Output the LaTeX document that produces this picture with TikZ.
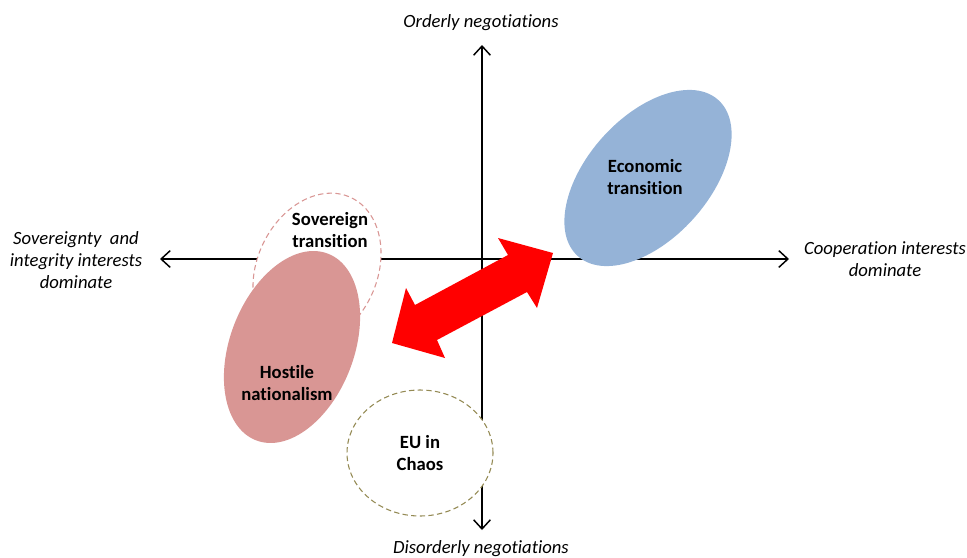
\documentclass[tikz,border=0pt]{standalone}
\usepackage{fontspec}
\setmainfont{Carlito}[Ligatures=NoCommon]
\usepackage{xcolor}
\usepackage{tikz}
\usetikzlibrary{arrows.meta}
\definecolor{econblue}{HTML}{95B3D7}
\definecolor{hostred}{HTML}{D99694}
\definecolor{sovline}{HTML}{D99694}
\definecolor{chaosline}{HTML}{948A54}
\tikzstyle{axis} = [line width=1.1pt, -{Straight Barb[length=2.4mm,width=4.4mm,line width=1.1pt]}]
\tikzstyle{axlabel} = [font=\fontsize{14}{16.5}\selectfont\itshape, align=center]
\tikzstyle{scenario} = [font=\fontsize{14}{16}\selectfont\bfseries, align=center]
\tikzstyle{dashedbound} = [dashed, line width=0.8pt, fill=white, dash pattern=on 4pt off 2.5pt]

\begin{document}
\begin{tikzpicture}[x=0.75pt, y=0.75pt]
\useasboundingbox (0,0) rectangle (967,-557);

% axes
\coordinate (origin) at (482,-259);
\coordinate (top) at (482,-45);
\coordinate (bottom) at (482,-530);
\coordinate (left) at (160,-259);
\coordinate (right) at (789,-259);
\draw [axis] (origin) -- (top);
\draw [axis] (origin) -- (bottom);
\draw [axis] (origin) -- (left);
\draw [axis] (origin) -- (right);

\node (orderly) [axlabel] at (481,-23) {Orderly negotiations};
\node (disorderly) [axlabel] at (481,-549) {Disorderly negotiations};
\node (sovint) [axlabel] at (76,-260) {Sovereignty\ \ and\\integrity interests\\dominate};
\node (coopint) [axlabel] at (885,-259) {Cooperation interests\\dominate};

% scenarios
\draw [dashedbound, draw=chaosline] (420,-453) ellipse [x radius=73, y radius=63];
\draw [dashedbound, draw=sovline, rotate around={-25:(317,-270)}] (317,-270) ellipse [x radius=60, y radius=80];
\fill [hostred, rotate around={-21:(292,-347)}] (292,-347) ellipse [x radius=62, y radius=100];
\fill [econblue, rotate around={48:(648,-178)}] (648,-178) ellipse [x radius=105, y radius=61];

\node (econ) [scenario] at (645,-177) {Economic\\transition};
\node (sov) [scenario] at (330,-230) {Sovereign\\transition};
\node (hostile) [scenario] at (287,-383) {Hostile\\nationalism};
\node (chaos) [scenario] at (420,-453) {EU in\\Chaos};

% double arrow between hostile and economic
\fill [red] (553,-253) -- (537,-308) -- (527,-292) -- (437,-340) -- (445,-358)
  -- (392,-343) -- (406,-288) -- (415,-305) -- (508,-255) -- (498,-238) -- cycle;

\end{tikzpicture}
\end{document}
